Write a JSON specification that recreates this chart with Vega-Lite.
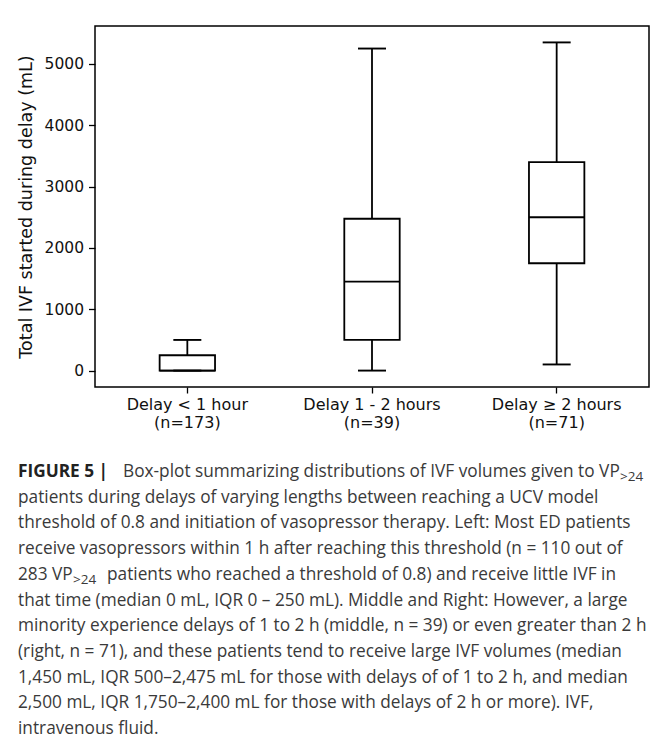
{
  "$schema": "https://vega.github.io/schema/vega-lite/v6.json",
  "padding": {"left": 16, "top": 25, "right": 0, "bottom": 0},
  "background": "white",
  "config": {"view": {"stroke": null}, "font": "DejaVu Sans"},
  "spacing": 28,
  "vconcat": [
    {
      "width": 554,
      "height": 361,
      "view": {"stroke": "#000000", "strokeWidth": 1.5},
      "data": {
        "values": [
          {"group": "Delay < 1 hour (n=173)", "lower": 0, "q1": 0, "median": 0, "q3": 250, "upper": 500},
          {"group": "Delay 1 - 2 hours (n=39)", "lower": 0, "q1": 500, "median": 1450, "q3": 2475, "upper": 5250},
          {"group": "Delay ≥ 2 hours (n=71)", "lower": 100, "q1": 1750, "median": 2500, "q3": 3400, "upper": 5350}
        ]
      },
      "encoding": {
        "x": {
          "field": "group",
          "type": "nominal",
          "sort": null,
          "scale": {"paddingInner": 0.7, "paddingOuter": 0.35},
          "axis": {
            "title": null,
            "labelAngle": 0,
            "domain": false,
            "tickColor": "#000000",
            "tickSize": 6,
            "tickWidth": 1.3,
            "labelFont": "DejaVu Sans",
            "labelFontSize": 16,
            "labelColor": "#111111",
            "labelPadding": 3,
            "labelLineHeight": 18,
            "labelExpr": "[slice(datum.label, 0, indexof(datum.label, ' (')), slice(datum.label, indexof(datum.label, ' (') + 1)]"
          }
        }
      },
      "layer": [
        {
          "mark": {"type": "rule", "stroke": "#000000", "strokeWidth": 1.8},
          "encoding": {
            "y": {
              "field": "lower",
              "type": "quantitative",
              "scale": {"domain": [-267.5, 5617.5], "nice": false, "zero": false},
              "axis": {
                "title": "Total IVF started during delay (mL)",
                "values": [0, 1000, 2000, 3000, 4000, 5000],
                "format": "d",
                "grid": false,
                "domain": false,
                "tickColor": "#000000",
                "tickSize": 6.5,
                "tickWidth": 1.3,
                "labelFont": "DejaVu Sans",
                "labelFontSize": 15.5,
                "labelColor": "#111111",
                "labelPadding": 5,
                "titleFont": "DejaVu Sans",
                "titleFontSize": 17.5,
                "titleFontWeight": "normal",
                "titleColor": "#111111",
                "titlePadding": 9
              }
            },
            "y2": {"field": "upper"}
          }
        },
        {
          "mark": {"type": "bar", "fill": "white", "stroke": "#000000", "strokeWidth": 1.8},
          "encoding": {
            "y": {"field": "q1", "type": "quantitative"},
            "y2": {"field": "q3"}
          }
        },
        {
          "mark": {"type": "tick", "color": "#000000", "opacity": 1, "size": 55.4, "thickness": 1.9},
          "encoding": {"y": {"field": "median", "type": "quantitative"}}
        },
        {
          "mark": {"type": "tick", "color": "#000000", "opacity": 1, "size": 28, "thickness": 1.9},
          "encoding": {"y": {"field": "lower", "type": "quantitative"}}
        },
        {
          "mark": {"type": "tick", "color": "#000000", "opacity": 1, "size": 28, "thickness": 1.9},
          "encoding": {"y": {"field": "upper", "type": "quantitative"}}
        }
      ]
    },
    {
      "width": 554,
      "height": 283,
      "data": {
        "values": [
          {"line": 1, "part": "bold", "text": "FIGURE 5 |"},
          {"line": 1, "part": "l1rest", "text": "Box-plot summarizing distributions of IVF volumes given to VP"},
          {"line": 1, "part": "l1sub", "text": ">24"},
          {"line": 2, "part": "full", "text": "patients during delays of varying lengths between reaching a UCV model"},
          {"line": 3, "part": "full", "text": "threshold of 0.8 and initiation of vasopressor therapy. Left: Most ED patients"},
          {"line": 4, "part": "full", "text": "receive vasopressors within 1 h after reaching this threshold (n = 110 out of"},
          {"line": 5, "part": "l5a", "text": "283 VP"},
          {"line": 5, "part": "l5sub", "text": ">24"},
          {"line": 5, "part": "l5rest", "text": "patients who reached a threshold of 0.8) and receive little IVF in"},
          {"line": 6, "part": "full", "text": "that time (median 0 mL, IQR 0 – 250 mL). Middle and Right: However, a large"},
          {"line": 7, "part": "full", "text": "minority experience delays of 1 to 2 h (middle, n = 39) or even greater than 2 h"},
          {"line": 8, "part": "full", "text": "(right, n = 71), and these patients tend to receive large IVF volumes (median"},
          {"line": 9, "part": "full", "text": "1,450 mL, IQR 500–2,475 mL for those with delays of of 1 to 2 h, and median"},
          {"line": 10, "part": "full", "text": "2,500 mL, IQR 1,750–2,400 mL for those with delays of 2 h or more). IVF,"},
          {"line": 11, "part": "full", "text": "intravenous fluid."}
        ]
      },
      "encoding": {
        "x": {"datum": 0, "type": "quantitative", "scale": {"domain": [0, 1]}, "axis": null},
        "y": {"field": "line", "type": "ordinal", "axis": null, "scale": {"type": "point", "padding": 0.5}},
        "text": {"field": "text"}
      },
      "layer": [
        {
          "transform": [{"filter": "datum.part == 'full' || datum.part == 'l5a'"}],
          "mark": {"type": "text", "align": "left", "baseline": "middle", "font": "Open Sans", "fontSize": 17.25, "color": "#3a3a3a", "dx": -77}
        },
        {
          "transform": [{"filter": "datum.part == 'bold'"}],
          "mark": {"type": "text", "align": "left", "baseline": "middle", "font": "Open Sans", "fontSize": 17.25, "fontWeight": "bold", "color": "#222222", "dx": -77}
        },
        {
          "transform": [{"filter": "datum.part == 'l1rest'"}],
          "mark": {"type": "text", "align": "left", "baseline": "middle", "font": "Open Sans", "fontSize": 17.25, "color": "#3a3a3a", "dx": 28}
        },
        {
          "transform": [{"filter": "datum.part == 'l1sub'"}],
          "mark": {"type": "text", "align": "left", "baseline": "middle", "font": "Open Sans", "fontSize": 13.5, "color": "#3a3a3a", "dx": 525, "dy": 5}
        },
        {
          "transform": [{"filter": "datum.part == 'l5sub'"}],
          "mark": {"type": "text", "align": "left", "baseline": "middle", "font": "Open Sans", "fontSize": 13.5, "color": "#3a3a3a", "dx": -22, "dy": 5}
        },
        {
          "transform": [{"filter": "datum.part == 'l5rest'"}],
          "mark": {"type": "text", "align": "left", "baseline": "middle", "font": "Open Sans", "fontSize": 17.25, "color": "#3a3a3a", "dx": 12}
        }
      ]
    }
  ]
}
